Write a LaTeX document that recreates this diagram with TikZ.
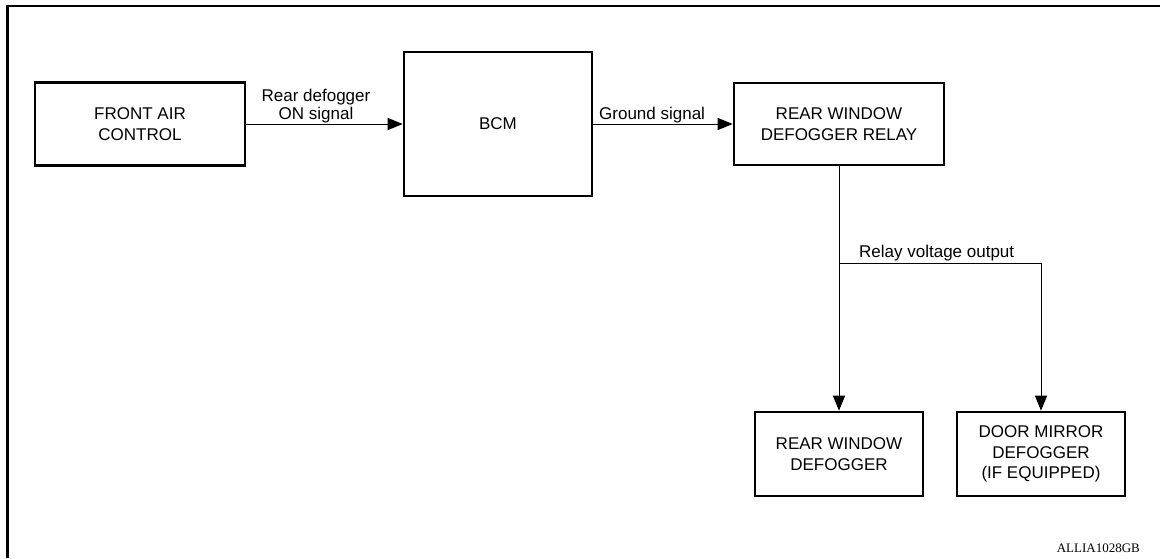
\documentclass[tikz,border=0pt]{standalone}
\usepackage{fontspec}
\setmainfont{Liberation Sans}
\newfontfamily\idfont{Liberation Serif}
\usetikzlibrary{arrows.meta}
\begin{document}
\begin{tikzpicture}[x=1pt,y=-1pt,
  blk/.style={draw,line width=2.6pt,rectangle,inner sep=0pt,align=center,font=\fontsize{17}{20.5}\selectfont},
  conn/.style={line width=1pt},
  arr/.style={conn,-{Triangle[length=15pt,width=12pt]}},
  lbl/.style={inner sep=0pt,font=\fontsize{17}{18.5}\selectfont}]
\useasboundingbox (0,0) rectangle (1160,558);
\fill[white] (0,0) rectangle (1160,558);
\draw[line width=2.8pt] (7.3,558) -- (7.3,6) -- (1160,6);
\node[blk,minimum width=210pt,minimum height=83pt] (fac) at (140,124) {FRONT AIR\\CONTROL};
\node[blk,minimum width=188pt,minimum height=144pt] (bcm) at (498,124) {BCM};
\node[blk,minimum width=210pt,minimum height=82pt] (relay) at (839,124) {REAR WINDOW\\DEFOGGER RELAY};
\node[blk,minimum width=168pt,minimum height=84pt] (rwd) at (839,454) {REAR WINDOW\\DEFOGGER};
\node[blk,minimum width=168pt,minimum height=84pt] (dmd) at (1041,454) {DOOR MIRROR\\DEFOGGER\\(IF EQUIPPED)};
\draw[arr] (fac) -- (bcm);
\draw[arr] (bcm) -- (relay);
\coordinate (j) at (839,263);
\coordinate (k) at (1041,263);
\draw[conn] (relay) -- (j) -- (k);
\draw[arr] (j) -- (rwd);
\draw[arr] (k) -- (dmd);
\node[lbl,align=center,anchor=south] (l1) at (316,123.5) {Rear defogger\\ON signal};
\node[lbl,anchor=base west] (l2) at (599,119) {Ground signal};
\node[lbl,anchor=base west] (l3) at (859,257) {Relay voltage output};
\node[inner sep=0pt,anchor=base east,font=\idfont\fontsize{13}{15}\selectfont] (id) at (1140,552) {ALLIA1028GB};
\end{tikzpicture}
\end{document}
